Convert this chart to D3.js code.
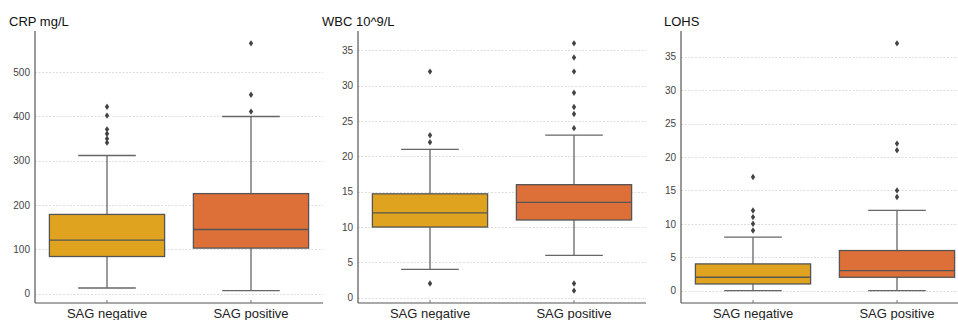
<!DOCTYPE html>
<html>
<head>
<meta charset="utf-8">
<script src="https://cdn.jsdelivr.net/npm/d3@7"></script>
<style>
  body { margin: 0; background: #fff; }
  svg { font-family: "Liberation Sans", Arial, sans-serif; }
</style>
</head>
<body>
<div id="chart"></div>
<script>
// groups on the x axis
const groups = ["SAG negative", "SAG positive"];

// panel titles
const titles = ["CRP mg/L", "WBC 10^9/L", "LOHS"];

// box stats per panel: [q1, median, q3, whiskerLow, whiskerHigh]
const crpStats = [[84, 121, 179, 13, 312], [103, 145, 226, 7, 400]];
const wbcStats = [[10, 12, 14.7, 4, 21], [11, 13.5, 16, 6, 23]];
const lohsStats = [[1, 2, 4, 0, 8], [2, 3, 6, 0, 12]];

// outliers per panel, per group
const crpOutliers = [[422, 402, 371, 361, 350, 341], [565, 449, 411]];
const wbcOutliers = [[32, 23, 22, 2], [36, 34, 32, 29, 27, 26, 24, 2, 1]];
const lohsOutliers = [[17, 12, 11, 10, 9], [37, 22, 21, 15, 14]];

// tick labels
const crpTicks = [0, 100, 200, 300, 400, 500];
const wbcTicks = [0, 5, 10, 15, 20, 25, 30, 35];
const lohsTicks = [0, 5, 10, 15, 20, 25, 30, 35];

const colors = ["#e0a31f", "#dd6f39"];

const width = 958;
const height = 320;

const panels = [
  { title: titles[0], stats: crpStats, outliers: crpOutliers, ticks: crpTicks },
  { title: titles[1], stats: wbcStats, outliers: wbcOutliers, ticks: wbcTicks },
  { title: titles[2], stats: lohsStats, outliers: lohsOutliers, ticks: lohsTicks }
];

// layout
const panelLeft = [35, 358, 681];
const titleShift = [-26, -36, -17];
const plotW = 288;
const plotTop = 31;
const plotBottom = 303;

let svg = d3
  .select("#chart")
  .append("svg")
  .attr("width", width)
  .attr("height", height);

let diamond = "M0,-3.2L2.2,0L0,3.2L-2.2,0Z";

panels.forEach(function (p, i) {
  let x0 = panelLeft[i];

  // y domain padded by 5% of the data range, matplotlib style
  let all = [];
  p.stats.forEach((s) => all.push(s[3], s[4]));
  p.outliers.forEach((o) => all.push(...o));
  let lo = d3.min(all), hi = d3.max(all);
  let pad = (hi - lo) * 0.05;

  let y = d3.scaleLinear().domain([lo - pad, hi + pad]).range([plotBottom, plotTop]);
  let x = d3.scaleBand().domain(groups).range([x0, x0 + plotW]);
  let boxW = x.bandwidth() * 0.8;

  let g = svg.append("g");

  // grid
  g.selectAll(".grid")
    .data(p.ticks)
    .enter()
    .append("line")
    .attr("x1", x0)
    .attr("x2", x0 + plotW)
    .attr("y1", (d) => Math.round(y(d)) + 0.5)
    .attr("y2", (d) => Math.round(y(d)) + 0.5)
    .attr("stroke", "#d4d4d4")
    .attr("stroke-width", 0.8)
    .attr("stroke-dasharray", "2,1.5");

  // y axis
  let yAxis = g.append("g")
    .attr("transform", "translate(" + x0 + ",0)")
    .call(d3.axisLeft(y).tickValues(p.ticks).tickSize(0).tickPadding(5));
  yAxis.select(".domain").remove();
  yAxis.selectAll("text")
    .attr("fill", "#444")
    .style("font-size", "10px");

  // boxes
  let box = g.selectAll(".box")
    .data(p.stats)
    .enter()
    .append("g");

  box.append("line")
    .attr("x1", (d, j) => x(groups[j]) + x.bandwidth() / 2)
    .attr("x2", (d, j) => x(groups[j]) + x.bandwidth() / 2)
    .attr("y1", (d) => y(d[4]))
    .attr("y2", (d) => y(d[3]))
    .attr("stroke", "#666")
    .attr("stroke-width", 1.3);

  box.selectAll(".cap")
    .data((d, j) => [[d[3], j], [d[4], j]])
    .enter()
    .append("line")
    .attr("x1", (d) => x(groups[d[1]]) + x.bandwidth() / 2 - boxW / 4)
    .attr("x2", (d) => x(groups[d[1]]) + x.bandwidth() / 2 + boxW / 4)
    .attr("y1", (d) => y(d[0]))
    .attr("y2", (d) => y(d[0]))
    .attr("stroke", "#666")
    .attr("stroke-width", 1.3);

  box.append("rect")
    .attr("x", (d, j) => x(groups[j]) + (x.bandwidth() - boxW) / 2)
    .attr("width", boxW)
    .attr("y", (d) => y(d[2]))
    .attr("height", (d) => y(d[0]) - y(d[2]))
    .attr("fill", (d, j) => colors[j])
    .attr("stroke", "#555")
    .attr("stroke-width", 1.3);

  box.append("line")
    .attr("x1", (d, j) => x(groups[j]) + (x.bandwidth() - boxW) / 2)
    .attr("x2", (d, j) => x(groups[j]) + (x.bandwidth() + boxW) / 2)
    .attr("y1", (d) => y(d[1]))
    .attr("y2", (d) => y(d[1]))
    .attr("stroke", "#555")
    .attr("stroke-width", 1.3);

  // outliers
  p.outliers.forEach(function (list, j) {
    g.selectAll(null)
      .data(list)
      .enter()
      .append("path")
      .attr("d", diamond)
      .attr("transform", (d) => "translate(" + (x(groups[j]) + x.bandwidth() / 2) + "," + y(d) + ")")
      .attr("fill", "#444");
  });

  // spines
  g.append("line")
    .attr("x1", x0).attr("x2", x0)
    .attr("y1", plotTop).attr("y2", plotBottom)
    .attr("stroke", "#555").attr("stroke-width", 1.2);
  g.append("line")
    .attr("x1", x0).attr("x2", x0 + plotW)
    .attr("y1", plotBottom).attr("y2", plotBottom)
    .attr("stroke", "#555").attr("stroke-width", 1.2);

  // x ticks + labels
  groups.forEach(function (name) {
    let cx = x(name) + x.bandwidth() / 2;
    g.append("line")
      .attr("x1", cx).attr("x2", cx)
      .attr("y1", plotBottom).attr("y2", plotBottom - 3)
      .attr("stroke", "#777");
    g.append("text")
      .attr("x", cx)
      .attr("y", 318)
      .attr("text-anchor", "middle")
      .attr("fill", "#222")
      .style("font-size", "13px")
      .text(name);
  });

  // title
  g.append("text")
    .attr("x", x0 + titleShift[i])
    .attr("y", 26)
    .attr("fill", "#111")
    .style("font-size", "13px")
    .text(p.title);
});
</script>
</body>
</html>
